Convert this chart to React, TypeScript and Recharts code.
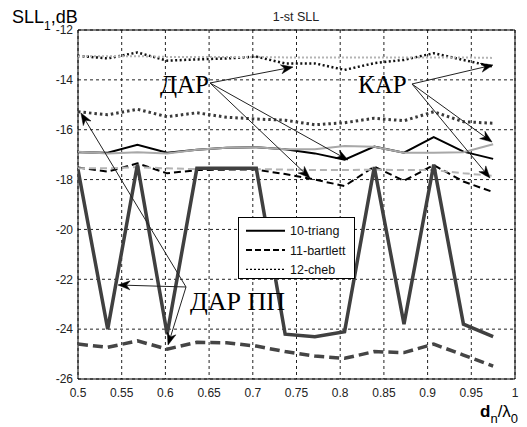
import React from 'react';
import {
  LineChart, Line, XAxis, YAxis, CartesianGrid, ReferenceArea, ReferenceLine, ReferenceDot, Legend,
} from 'recharts';

// ---- data ----
const xs = [0.5, 0.534, 0.568, 0.602, 0.636, 0.670, 0.704, 0.737, 0.771, 0.805, 0.839, 0.873, 0.907, 0.941, 0.975];

// ДАР (black)
const darTriang = [-16.9, -16.92, -16.6, -16.92, -16.8, -16.72, -16.7, -16.78, -16.95, -17.2, -16.68, -16.92, -16.3, -16.88, -17.17];
const darBartlett = [-17.52, -17.68, -17.35, -17.75, -17.62, -17.6, -17.6, -17.78, -18.0, -18.26, -17.48, -18.05, -17.42, -18.08, -18.5];
const darCheb = [-13.04, -13.14, -12.9, -13.23, -13.18, -13.14, -13.07, -13.34, -13.34, -13.6, -13.33, -13.2, -12.93, -13.2, -13.47];

// КАР (light gray)
const karTriang = [-16.88, -16.95, -16.9, -16.95, -16.8, -16.72, -16.7, -16.78, -16.78, -16.65, -16.68, -16.92, -16.92, -16.9, -16.58];
const karBartlett = [-17.55, -17.55, -17.5, -17.55, -17.58, -17.58, -17.58, -17.6, -17.62, -17.62, -17.6, -17.62, -17.62, -17.75, -17.85];
const karCheb = [-13.05, -13.05, -13.05, -13.08, -13.08, -13.08, -13.08, -13.1, -13.1, -13.1, -13.1, -13.1, -13.1, -13.1, -13.12];

// ДАР ПП (thick dark gray)
const ppTriang = [-17.6, -24.0, -17.4, -24.2, -17.55, -17.55, -17.55, -24.2, -24.3, -24.1, -17.5, -23.8, -17.4, -23.8, -24.3];
const ppBartlett = [-24.6, -24.73, -24.47, -24.8, -24.53, -24.55, -24.68, -24.9, -25.08, -25.17, -24.9, -24.94, -24.6, -25.04, -25.48];
const ppCheb = [-15.28, -15.4, -15.18, -15.48, -15.32, -15.5, -15.57, -15.62, -15.8, -15.72, -15.54, -15.64, -15.28, -15.68, -15.74];

const xTicks = [0.5, 0.55, 0.6, 0.65, 0.7, 0.75, 0.8, 0.85, 0.9, 0.95, 1];
const yTicks = [-26, -24, -22, -20, -18, -16, -14, -12];

const legendLabels = ['10-triang', '11-bartlett', '12-cheb'];
const title = '1-st SLL';

// annotation texts (data coordinates) and arrows (from -> to)
const textLabels = [
  { text: 'ДАР', x: 0.5938, y: -14.527 },
  { text: 'КАР', x: 0.8204, y: -14.527 },
  { text: 'ДАР ПП', x: 0.6281, y: -23.231 },
];
const arrows = [
  { from: [0.651, -14.126], to: [0.746, -13.484] },
  { from: [0.651, -14.126], to: [0.8089, -17.215] },
  { from: [0.651, -14.126], to: [0.7654, -17.937] },
  { from: [0.8822, -14.166], to: [0.9748, -13.404] },
  { from: [0.8822, -14.166], to: [0.9737, -16.493] },
  { from: [0.8822, -14.166], to: [0.9714, -17.937] },
  { from: [0.6236, -22.309], to: [0.5034, -15.33] },
  { from: [0.6236, -22.309], to: [0.5458, -22.229] },
  { from: [0.6236, -22.309], to: [0.603, -24.635] },
];

const data = xs.map((x, i) => ({
  x,
  darTriang: darTriang[i],
  darBartlett: darBartlett[i],
  darCheb: darCheb[i],
  karTriang: karTriang[i],
  karBartlett: karBartlett[i],
  karCheb: karCheb[i],
  ppTriang: ppTriang[i],
  ppBartlett: ppBartlett[i],
  ppCheb: ppCheb[i],
}));

const SANS = '"Liberation Sans", Arial, sans-serif';
const SERIF = '"Liberation Serif", "Times New Roman", serif';

const ArrowShape = (props: any) => {
  const { x1, y1, x2, y2 } = props;
  const ang = Math.atan2(y2 - y1, x2 - x1);
  const L = 12;
  const W = 4.5;
  const bx = x2 - L * Math.cos(ang);
  const by = y2 - L * Math.sin(ang);
  const nx = -Math.sin(ang);
  const ny = Math.cos(ang);
  const mx = x2 - (L * 0.7) * Math.cos(ang);
  const my = y2 - (L * 0.7) * Math.sin(ang);
  const pts = `${x2},${y2} ${bx + nx * W},${by + ny * W} ${mx},${my} ${bx - nx * W},${by - ny * W}`;
  return (
    <g>
      <line x1={x1} y1={y1} x2={mx} y2={my} stroke="#222" strokeWidth={1} />
      <polygon points={pts} fill="#000" stroke="#000" strokeWidth={0.5} />
    </g>
  );
};

const LegendBox = () => {
  const rows = [
    { dash: undefined, width: 2 },
    { dash: '6 3', width: 2 },
    { dash: '2 2', width: 1.2 },
  ];
  const ys = [12.7, 32, 51.3];
  return (
    <div style={{ width: 117, height: 62, border: '1px solid #000', background: '#fff', boxSizing: 'border-box' }}>
      <svg width={115} height={60} style={{ display: 'block' }}>
        {rows.map((r, i) => (
          <g key={i}>
            <line x1={7} x2={46} y1={ys[i]} y2={ys[i]} stroke="#000" strokeWidth={r.width} strokeDasharray={r.dash} />
            <text x={51} y={ys[i] + 4.5} fontSize={12.5} fontFamily={SANS} fill="#111">{legendLabels[i]}</text>
          </g>
        ))}
      </svg>
    </div>
  );
};

export default function App() {
  return (
    <div style={{ position: 'relative', width: 519, height: 419, background: '#fff' }}>
      <LineChart width={519} height={419} data={data} margin={{ top: 22, right: 12, bottom: 18, left: 0 }}>
        <CartesianGrid stroke="#222" strokeDasharray="3 3" strokeWidth={1} />
        <XAxis
          dataKey="x"
          type="number"
          domain={[0.5, 1]}
          ticks={xTicks}
          tickFormatter={(v: number) => String(v)}
          height={30}
          axisLine={false}
          tickLine={false}
          tickSize={3}
          tickMargin={6}
          tick={{ fontSize: 12, fill: '#222', fontFamily: SANS }}
          allowDataOverflow
        />
        <YAxis
          type="number"
          domain={[-26, -12]}
          ticks={yTicks}
          width={70}
          axisLine={false}
          tickLine={false}
          tickSize={3}
          tickMargin={2}
          tick={{ fontSize: 12, fill: '#222', fontFamily: SANS }}
          allowDataOverflow
        />
        <Line dataKey="darTriang" stroke="#000" strokeWidth={2} dot={false} isAnimationActive={false} />
        <Line dataKey="darBartlett" stroke="#000" strokeWidth={2} strokeDasharray="7 4" dot={false} isAnimationActive={false} />
        <Line dataKey="darCheb" stroke="#111" strokeWidth={2.5} strokeDasharray="2 2.5" dot={false} isAnimationActive={false} />
        <Line dataKey="karTriang" stroke="#a8a8a8" strokeWidth={2} dot={false} isAnimationActive={false} />
        <Line dataKey="karBartlett" stroke="#b4b4b4" strokeWidth={2} strokeDasharray="7 4" dot={false} isAnimationActive={false} />
        <Line dataKey="karCheb" stroke="#b4b4b4" strokeWidth={2} strokeDasharray="2 2" dot={false} isAnimationActive={false} />
        <Line dataKey="ppCheb" stroke="#3a3a3a" strokeWidth={3} strokeDasharray="2.5 3" dot={false} isAnimationActive={false} />
        <Line dataKey="ppBartlett" stroke="#454545" strokeWidth={3.5} strokeDasharray="10 5" dot={false} isAnimationActive={false} />
        <Line dataKey="ppTriang" stroke="#404040" strokeWidth={3.5} dot={false} isAnimationActive={false} />
        <ReferenceArea x1={0.5} x2={1} y1={-26} y2={-12} fill="none" fillOpacity={0} stroke="#000" strokeWidth={1} ifOverflow="visible" />
        {arrows.map((a, i) => (
          <ReferenceLine
            key={'a' + i}
            segment={[{ x: a.from[0], y: a.from[1] }, { x: a.to[0], y: a.to[1] }]}
            ifOverflow="visible"
            shape={ArrowShape}
          />
        ))}
        {textLabels.map((t, i) => (
          <ReferenceDot
            key={'t' + i}
            x={t.x}
            y={t.y}
            r={0}
            ifOverflow="visible"
            shape={(p: any) => (
              <text x={p.cx} y={p.cy} fontSize={t.text.length > 3 ? 26 : 25} fontFamily={SERIF} fill="#000">{t.text}</text>
            )}
          />
        ))}
        <Legend
          layout="vertical"
          align="center"
          verticalAlign="middle"
          wrapperStyle={{ left: 230, top: 209, width: 117, height: 62 }}
          content={() => <LegendBox />}
        />
      </LineChart>
      <svg width={519} height={419} style={{ position: 'absolute', left: 0, top: 0, pointerEvents: 'none' }}>
        <text x={288} y={13} textAnchor="middle" fontSize={12.5} fontFamily={SANS} fill="#222">{title}</text>
        <text x={4} y={15} fontSize={18} fontFamily={SANS} fill="#000">
          SLL<tspan fontSize={12} dy={7}>1</tspan><tspan fontSize={18} dy={-7}>,dB</tspan>
        </text>
        <text x={472} y={409} fontSize={17} fontFamily={SANS} fill="#000">
          <tspan fontWeight="bold">d</tspan><tspan fontSize={13} dy={6}>n</tspan><tspan fontSize={17} dy={-6}>/λ</tspan><tspan fontSize={13} dy={6}>0</tspan>
        </text>
      </svg>
    </div>
  );
}
